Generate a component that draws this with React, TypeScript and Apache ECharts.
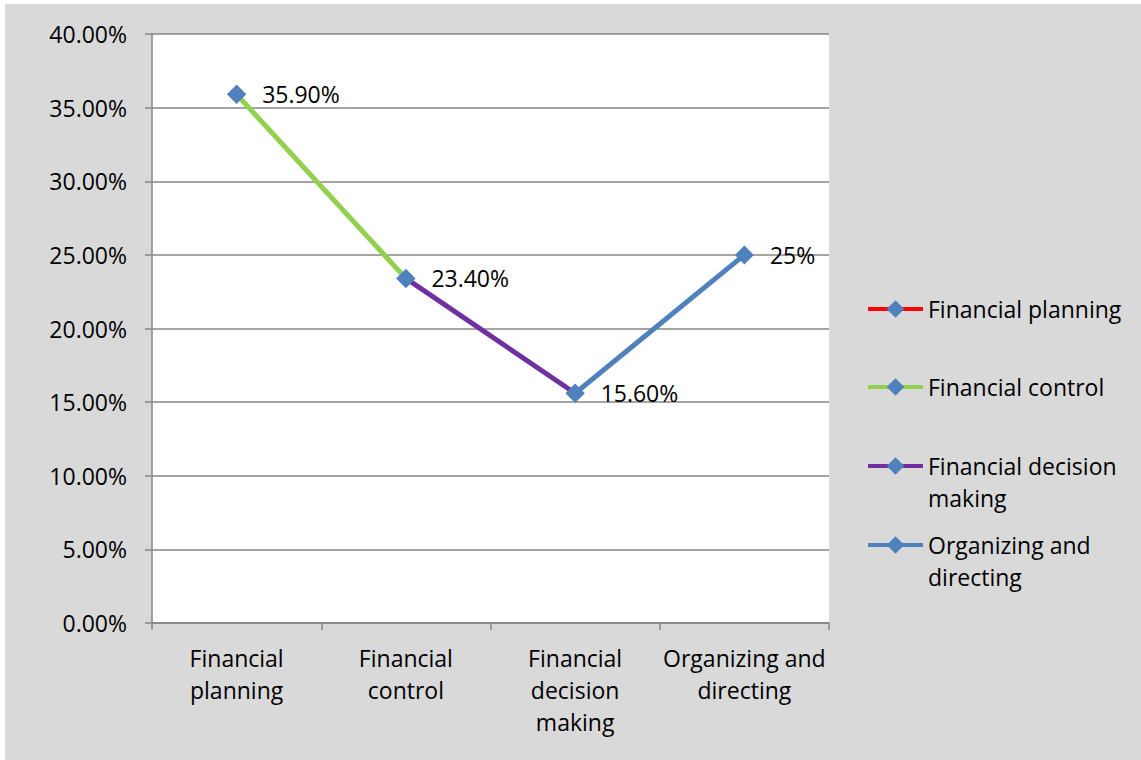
import React, { useEffect, useRef } from "react";
import * as echarts from "echarts";

// Share of respondents per financial management function
const categories = [
  "Financial planning",
  "Financial control",
  "Financial decision making",
  "Organizing and directing",
];
const values = [35.9, 23.4, 15.6, 25];
const valueDecimals = [2, 2, 2, 0];
const seriesColors = ["#ff0000", "#92d050", "#7030a0", "#4f81bd"];
const markerColor = "#4f81bd";
const axisLabelLines = [
  "Financial\nplanning",
  "Financial\ncontrol",
  "Financial\ndecision\nmaking",
  "Organizing and\ndirecting",
];
const legendLabelLines = [
  "Financial planning",
  "Financial control",
  "Financial decision\nmaking",
  "Organizing and\ndirecting",
];
const yMin = 0;
const yMax = 40;
const yStep = 5;

const FONT = "'Open Sans', sans-serif";
const FONT_SIZE = 23;
const LINE_H = 32;
const AXIS_GRAY = "#868686";

export default function App() {
  const ref = useRef<HTMLDivElement>(null);

  useEffect(() => {
    if (!ref.current) return;
    const chart = echarts.init(ref.current, undefined, { renderer: "svg" });

    // Each category owns the segment that leads into it, coloured by its own colour
    const series = categories.map((name, k) => ({
      type: "line",
      name,
      symbol: "diamond",
      symbolSize: 19,
      lineStyle: { color: seriesColors[k], width: 5 },
      itemStyle: { color: markerColor },
      connectNulls: false,
      data: values.map((v, i) =>
        i === k || i === k - 1
          ? { value: v, label: { show: i === k } }
          : "-"
      ),
      label: {
        position: "right",
        distance: 16,
        color: "#000",
        fontFamily: FONT,
        fontSize: FONT_SIZE,
        formatter: (p: any) =>
          values[p.dataIndex].toFixed(valueDecimals[p.dataIndex]) + "%",
      },
      emphasis: { disabled: true },
    }));

    // One legend block per entry; wrapped names get a blank leading line so
    // the first text line sits level with the icon.
    const iconCenters = [305, 383, 462, 541];
    const legends = categories.map((name, k) => {
      const textLines = legendLabelLines[k].split("\n");
      const shown =
        textLines.length > 1
          ? ["", ...textLines].join("\n")
          : textLines[0];
      const nLines = shown.split("\n").length;
      return {
        show: true,
        orient: "vertical",
        left: 861,
        top: iconCenters[k] - (nLines * LINE_H) / 2,
        padding: 0,
        itemWidth: 55,
        itemHeight: 22,
        data: [name],
        selectedMode: false,
        formatter: () => shown,
        lineStyle: { width: 4 },
        itemStyle: { borderWidth: 0 },
        textStyle: {
          color: "#000",
          fontFamily: FONT,
          fontSize: FONT_SIZE,
          lineHeight: LINE_H,
        },
      };
    });

    chart.setOption({
      animation: false,
      backgroundColor: "#d9d9d9",
      textStyle: { fontFamily: FONT },
      grid: {
        left: 147,
        right: 312,
        top: 30,
        bottom: 137,
        show: true,
        backgroundColor: "#ffffff",
        borderWidth: 0,
      },
      legend: legends,
      xAxis: {
        type: "category",
        data: categories,
        boundaryGap: true,
        axisLine: { show: true, lineStyle: { color: AXIS_GRAY, width: 1.5 } },
        axisTick: {
          show: true,
          interval: 0,
          length: 7,
          lineStyle: { color: AXIS_GRAY, width: 1.5 },
        },
        axisLabel: {
          interval: 0,
          margin: 19,
          color: "#000",
          fontFamily: FONT,
          fontSize: FONT_SIZE,
          lineHeight: LINE_H,
          formatter: (_v: string, i: number) => axisLabelLines[i],
        },
        splitLine: { show: false },
      },
      yAxis: {
        type: "value",
        min: yMin,
        max: yMax,
        interval: yStep,
        axisLine: { show: true, lineStyle: { color: AXIS_GRAY, width: 1.5 } },
        axisTick: {
          show: true,
          length: 7,
          lineStyle: { color: AXIS_GRAY, width: 1.5 },
        },
        axisLabel: {
          margin: 25,
          color: "#000",
          fontFamily: FONT,
          fontSize: FONT_SIZE,
          formatter: (v: number) => v.toFixed(2) + "%",
        },
        splitLine: { show: true, lineStyle: { color: AXIS_GRAY, width: 1.5 } },
      },
      series,
    });

    return () => chart.dispose();
  }, []);

  return (
    <div
      style={{
        position: "absolute",
        left: 0,
        top: 0,
        width: 1141,
        height: 760,
        background: "#ffffff",
      }}
    >
      <div
        ref={ref}
        style={{ position: "absolute", left: 5, top: 4, width: 1136, height: 756 }}
      />
    </div>
  );
}
